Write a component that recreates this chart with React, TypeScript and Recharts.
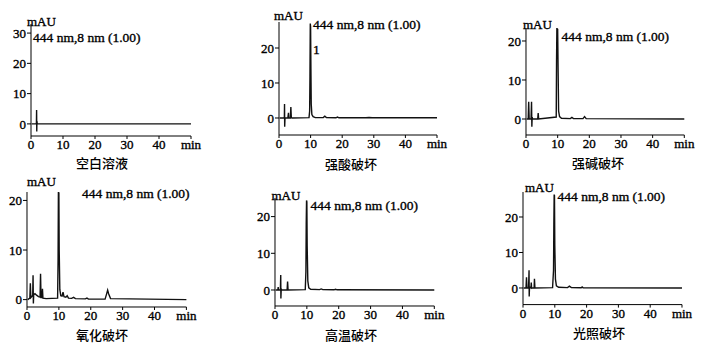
import { Line, LineChart, XAxis, YAxis } from "recharts";

const X_TICKS = [0, 10, 20, 30, 40, 50];
const Y_TICKS_BLANK = [0, 10, 20, 30];
const Y_TICKS = [0, 10, 20];
const TITLES = ["空白溶液", "强酸破坏", "强碱破坏", "氧化破坏", "高温破坏", "光照破坏"];
const NOTE = "444 nm,8 nm (1.00)";

// retention time (min) and absorbance (mAU)
const blankTime = [0.2, 1.6, 1.7, 1.75, 1.8, 1.85, 1.95, 2.1, 50];
const blankSignal = [0, 0, 0.3, 4.6, -2.5, 0.8, 0.1, 0, 0];

const acidTime = [0.2, 1.6, 1.7, 1.75, 1.8, 1.9, 2.8, 3.0, 3.1, 3.6, 3.75, 3.9, 4.2, 9.5, 9.7, 9.8, 9.9, 10.0, 10.1, 10.2, 10.4, 10.8, 11.5, 14.0, 14.5, 15.0, 18.0, 18.5, 19.0, 27.5, 28.5, 29.5, 50];
const acidSignal = [0, 0, 0.3, 4.0, -2.5, 0, 0, 1.5, 0, 0, 3.1, 0.1, 0, 0.1, 2, 12, 27, 26, 14, 4, 1, 0.4, 0.1, 0.1, 0.5, 0.1, 0.05, 0.25, 0.05, 0.05, 0.15, 0.05, 0.05];

const baseTime = [0.2, 0.7, 0.85, 1.0, 1.6, 1.75, 1.85, 1.95, 2.1, 3.7, 3.85, 4.0, 9.55, 9.65, 9.75, 10.0, 10.15, 10.3, 10.6, 11.2, 14.0, 14.5, 15.0, 18.0, 18.5, 19.0, 50];
const baseSignal = [0, 0, 4.4, 0, 0, 4.4, -2.0, 0.5, 0, 0, 1.5, 0, 0.5, 15, 23.2, 23.0, 12, 2, 0.6, 0.2, 0.1, 0.4, 0.1, 0.1, 0.6, 0.1, 0];

const oxidTime = [0.2, 0.9, 1.05, 1.2, 1.6, 1.8, 1.9, 2.0, 2.1, 2.5, 3.0, 3.6, 4.1, 4.25, 4.4, 4.7, 4.85, 5.0, 6.0, 9.6, 9.75, 9.85, 10.0, 10.1, 10.3, 10.6, 11.0, 11.3, 11.6, 12.2, 12.6, 13.0, 14.0, 14.6, 15.2, 18.3, 18.8, 19.3, 24.5, 25.0, 25.3, 25.6, 26.2, 50];
const oxidSignal = [0, 0.3, 3.3, 0.4, 0.7, 0.9, 4.9, -0.8, 1.0, 1.2, 0.9, 0.6, 0.5, 5.2, 0.4, 0.4, 2.2, 0.3, 0.2, 0.3, 8, 21.7, 21.5, 10, 2, 0.8, 0.7, 1.5, 0.6, 0.5, 0.8, 0.3, 0.25, 0.45, 0.2, 0.15, 0.3, 0.1, 0.1, 1.2, 1.9, 1.2, 0.2, 0];

const heatTime = [0.2, 0.9, 1.0, 1.1, 1.6, 1.7, 1.8, 1.85, 1.95, 2.1, 3.8, 3.95, 4.1, 9.5, 9.7, 9.8, 9.9, 10.0, 10.1, 10.3, 10.6, 11.2, 14.0, 14.5, 15.0, 18.5, 19.0, 19.5, 50];
const heatSignal = [0, 0, 0.8, 0, 0, 0.2, 4.1, -2.3, 0.3, 0, 0, 2.3, 0, 0.1, 5, 18, 24.4, 24, 12, 2.5, 0.6, 0.2, 0.1, 0.3, 0.1, 0.05, 0.2, 0.05, 0];

const lightTime = [0.2, 0.95, 1.1, 1.25, 1.75, 1.9, 1.95, 2.05, 2.5, 2.6, 2.7, 3.5, 3.6, 3.75, 9.3, 9.6, 9.7, 9.8, 9.9, 10.0, 10.2, 10.5, 11.2, 14.0, 14.6, 15.2, 18.3, 18.6, 18.9, 50];
const lightSignal = [0, 0, 3.0, 0, 0, 5.0, -2.4, 0.3, 0, 1.5, 0, 0, 2.6, 0, 0.1, 5, 18, 26.3, 26, 12, 2.5, 0.6, 0.2, 0.1, 0.5, 0.1, 0.05, 0.3, 0.05, 0];

type Frame = {
  x0: number;
  x50: number;
  top: number;
  bottom: number;
  yMin: number;
  yMax: number;
  mau: [number, number];
  note: [number, number];
  title: [number, number];
};

const FRAMES: Frame[] = [
  { x0: 31, x50: 191, top: 24, bottom: 136, yMin: -4, yMax: 33, mau: [27, 15], note: [33, 31], title: [102, 163] },
  { x0: 279, x50: 437, top: 22, bottom: 135, yMin: -4.86, yMax: 27.43, mau: [274, 9], note: [313, 17.5], title: [351, 164] },
  { x0: 525.7, x50: 684, top: 28, bottom: 135, yMin: -4.1, yMax: 23.33, mau: [523, 18], note: [561.5, 30], title: [598, 163] },
  { x0: 27.3, x50: 186.7, top: 191.7, bottom: 306.7, yMin: -1.49, yMax: 21.7, mau: [27, 175], note: [82, 187], title: [102, 335] },
  { x0: 275, x50: 434.3, top: 198, bottom: 306, yMin: -4.36, yMax: 25.07, mau: [271.5, 189], note: [310.5, 198.5], title: [351, 335] },
  { x0: 522.7, x50: 681.7, top: 191.7, bottom: 304.3, yMin: -4.68, yMax: 27.04, mau: [525, 180.5], note: [557.5, 190], title: [599, 333] },
];

const SERIES = [
  { time: blankTime, signal: blankSignal, yTicks: Y_TICKS_BLANK },
  { time: acidTime, signal: acidSignal, yTicks: Y_TICKS },
  { time: baseTime, signal: baseSignal, yTicks: Y_TICKS },
  { time: oxidTime, signal: oxidSignal, yTicks: Y_TICKS },
  { time: heatTime, signal: heatSignal, yTicks: Y_TICKS },
  { time: lightTime, signal: lightSignal, yTicks: Y_TICKS },
];

const SERIF = '"Liberation Serif", "Times New Roman", serif';
const CJK = '"Noto Sans CJK SC", sans-serif';
const YW = 34;
const MT = 6;
const MR = 24;
const XH = 30;

// scanned original has heavy type, so the text gets a thin outline
const tickStyle = {
  fontSize: 13,
  fill: "#000",
  fontFamily: SERIF,
  stroke: "#000",
  strokeWidth: 0.35,
};

const label: React.CSSProperties = {
  position: "absolute",
  fontFamily: SERIF,
  lineHeight: 1,
  whiteSpace: "nowrap",
  color: "#000",
  WebkitTextStroke: "0.35px #000",
};

function Chromatogram({ index }: { index: number }) {
  const f = FRAMES[index];
  const s = SERIES[index];
  const data = s.time.map((t, i) => ({ t, v: s.signal[i] }));

  return (
    <>
      <div style={{ position: "absolute", left: f.x0 - YW, top: f.top - MT }}>
        <LineChart
          width={f.x50 - f.x0 + YW + MR}
          height={f.bottom - f.top + MT + XH}
          data={data}
          margin={{ top: MT, right: MR, bottom: 0, left: 0 }}
        >
          <XAxis
            dataKey="t"
            type="number"
            domain={[0, 50]}
            ticks={X_TICKS}
            interval={0}
            tickFormatter={(v: number) => (v === 50 ? "min" : String(v))}
            tickSize={3}
            tickMargin={1}
            height={XH}
            stroke="#000"
            tick={tickStyle}
          />
          <YAxis
            type="number"
            domain={[f.yMin, f.yMax]}
            ticks={s.yTicks}
            interval={0}
            allowDataOverflow
            width={YW}
            tickSize={4}
            tickMargin={1}
            stroke="#000"
            tick={tickStyle}
          />
          <Line
            dataKey="v"
            type="linear"
            dot={false}
            stroke="#111"
            strokeWidth={1.4}
            isAnimationActive={false}
          />
        </LineChart>
      </div>
      <div style={{ ...label, left: f.mau[0], top: f.mau[1], fontSize: 13 }}>mAU</div>
      <div style={{ ...label, left: f.note[0], top: f.note[1], fontSize: 13.5 }}>{NOTE}</div>
      {index === 1 && (
        <div style={{ ...label, left: 313, top: 43, fontSize: 13.5 }}>1</div>
      )}
      <div
        style={{
          position: "absolute",
          left: f.title[0],
          top: f.title[1] - 7,
          transform: "translateX(-50%)",
          fontFamily: CJK,
          fontSize: 13,
          fontWeight: 500,
          lineHeight: 1,
          whiteSpace: "nowrap",
          color: "#000",
        }}
      >
        {TITLES[index]}
      </div>
    </>
  );
}

export default function App() {
  return (
    <div
      style={{
        position: "absolute",
        left: 0,
        top: 0,
        width: 708,
        height: 357,
        background: "#fff",
        overflow: "hidden",
      }}
    >
      {FRAMES.map((_, i) => (
        <Chromatogram key={i} index={i} />
      ))}
    </div>
  );
}
